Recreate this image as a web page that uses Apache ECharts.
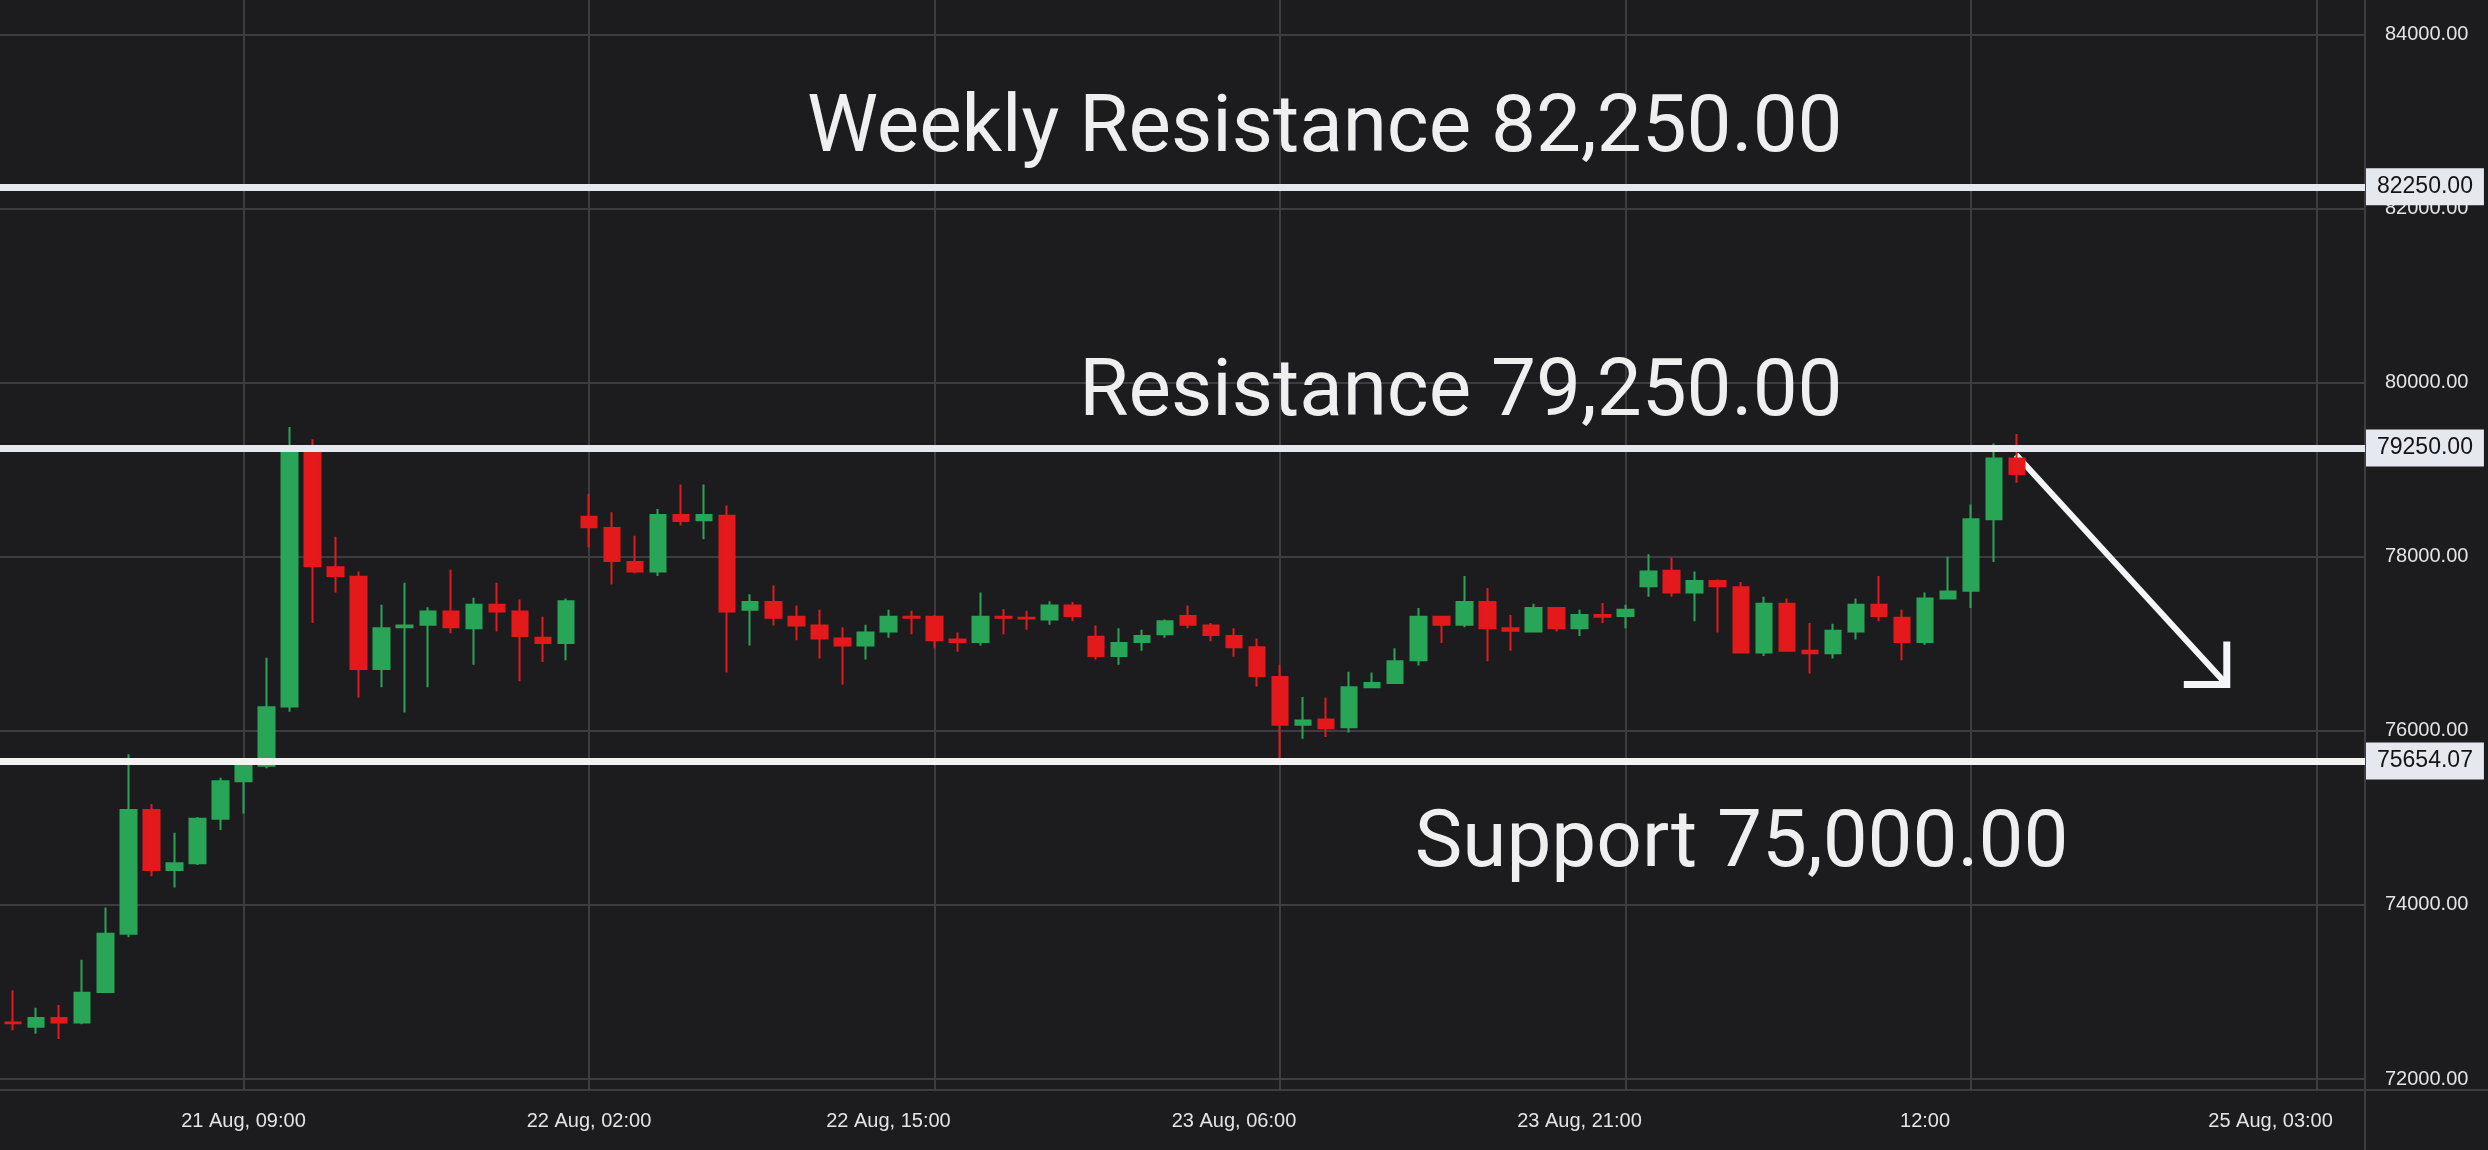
<!DOCTYPE html>
<html>
<head>
<meta charset="utf-8">
<title>Support / Resistance</title>
<script src="https://cdn.jsdelivr.net/npm/echarts@6/dist/echarts.min.js"></script>
<style>
    html, body { margin: 0; padding: 0; background: #1c1c1f; }
    #main { width: 2488px; height: 1150px; }
</style>
</head>
<body>
<div id="main"></div>
<script type="text/javascript">
    // hourly candles (index = candle number)
    var opens = [72650, 72600, 72700, 72650, 73000, 73670, 75090, 74400, 74480, 74990,
        75420, 75600, 76280, 79250, 77880, 77770, 76710, 77190, 77220, 77370,
        77180, 77450, 77370, 77070, 77010, 78460, 78330, 77940, 77830, 78480,
        78420, 78470, 77390, 77480, 77310, 77210, 77060, 76980, 77140, 77310,
        77310, 77050, 77020, 77310, 77300, 77280, 77440, 77080, 76860, 77020,
        77110, 77320, 77210, 77090, 76960, 76620, 76070, 76130, 76040, 76500,
        76550, 76810, 77310, 77220, 77480, 77180, 77140, 77410, 77180, 77330,
        77320, 77660, 77840, 77590, 77720, 77650, 76900, 77460, 76920, 76890,
        77140, 77450, 77300, 77020, 77520, 77610, 78430, 79130];
    var closes = [72640, 72700, 72650, 72990, 73670, 75090, 74400, 74480, 74990, 75420,
        75600, 76270, 79260, 77890, 77780, 76710, 77180, 77210, 77370, 77190,
        77450, 77370, 77090, 77010, 77490, 78340, 77950, 77830, 78480, 78410,
        78480, 77370, 77480, 77300, 77210, 77060, 76980, 77130, 77310, 77300,
        77040, 77020, 77310, 77300, 77290, 77440, 77320, 76860, 77010, 77090,
        77260, 77220, 77100, 76960, 76630, 76070, 76120, 76030, 76500, 76550,
        76800, 77310, 77220, 77480, 77180, 77150, 77410, 77180, 77330, 77310,
        77390, 77830, 77590, 77720, 77660, 76900, 77460, 76920, 76890, 77150,
        77450, 77320, 77020, 77520, 77600, 78430, 79130, 78950];
    var lows = [72560, 72520, 72460, 72630, 72990, 73630, 74330, 74200, 74460, 74860,
        75050, 75570, 76220, 77240, 77590, 76380, 76500, 76210, 76500, 77120,
        76760, 77140, 76570, 76790, 76810, 78110, 77680, 77810, 77780, 78360,
        78200, 76670, 76980, 77210, 77040, 76830, 76530, 76820, 77070, 77110,
        76950, 76910, 76980, 77110, 77160, 77220, 77260, 76820, 76760, 76920,
        77070, 77180, 77030, 76850, 76510, 75654.07, 75910, 75930, 75980, 76490,
        76540, 76750, 77010, 77190, 76800, 76920, 77140, 77140, 77090, 77240,
        77180, 77540, 77540, 77260, 77130, 76900, 76860, 76910, 76660, 76830,
        77050, 77260, 76810, 76990, 77510, 77410, 77940, 78850];
    var highs = [73020, 72820, 72850, 73370, 73970, 75730, 75160, 74830, 75010, 75460,
        75620, 76840, 79490, 79350, 78230, 77830, 77450, 77700, 77420, 77850,
        77530, 77700, 77510, 77310, 77520, 78720, 78510, 78240, 78550, 78830,
        78830, 78590, 77570, 77670, 77440, 77390, 77190, 77220, 77390, 77380,
        77330, 77130, 77590, 77400, 77380, 77490, 77480, 77210, 77180, 77160,
        77280, 77440, 77240, 77180, 77060, 76760, 76390, 76380, 76680, 76670,
        76950, 77410, 77310, 77780, 77640, 77330, 77460, 77420, 77390, 77470,
        77450, 78030, 77990, 77830, 77740, 77710, 77540, 77520, 77240, 77230,
        77520, 77780, 77390, 77590, 78000, 78600, 79300, 79410];

    // axes
    var yTicks = [72000, 74000, 76000, 78000, 80000, 82000, 84000];
    var gridIdx = [10, 25, 40, 55, 70, 85, 100];
    var tickIdx = [10, 25, 38, 53, 68, 83, 98];
    var tickText = ['21 Aug, 09:00', '22 Aug, 02:00', '22 Aug, 15:00', '23 Aug, 06:00',
        '23 Aug, 21:00', '12:00', '25 Aug, 03:00'];

    // drawn levels and notes
    var levels = [82250, 79250, 75654.07];
    var levelColors = ['#e6e8ef', '#e6e8ef', '#f2f2f2'];
    var notes = ['Weekly Resistance 82,250.00', 'Resistance 79,250.00', 'Support 75,000.00'];
    var noteAt = [[79.42, 82895], [79.42, 79860], [89.23, 74682]];
    var arrow = [86.95, 79172, 96.1, 76531];

    var W = 2488, H = 1150;
    var gridRight = 123, gridBottom = 60;
    var frameColor = '#3d3d41';

    var myChart = echarts.init(document.getElementById('main'), null, { renderer: 'canvas' });

    var candles = opens.map(function (o, i) {
        return [i, o, closes[i], lows[i], highs[i]];
    });

    var option = {
        backgroundColor: '#1c1c1f',
        animation: false,
        grid: { left: 0, right: gridRight, top: 0, bottom: gridBottom, outerBoundsMode: 'none' },
        xAxis: {
            type: 'value',
            min: -0.57,
            max: 102.1,
            axisLine: { show: false },
            axisTick: { show: false, customValues: gridIdx },
            splitLine: { show: true, lineStyle: { color: frameColor, width: 2 } },
            axisLabel: {
                customValues: tickIdx,
                formatter: function (v) { return tickText[tickIdx.indexOf(v)]; },
                color: '#e4e4e4',
                fontSize: 20,
                fontFamily: 'Liberation Sans',
                margin: 21
            }
        },
        yAxis: {
            type: 'value',
            position: 'right',
            min: 71874,
            max: 84396,
            axisLine: { show: false },
            axisTick: { show: false, customValues: yTicks },
            splitLine: { show: true, lineStyle: { color: frameColor, width: 2 } },
            axisLabel: {
                customValues: yTicks,
                formatter: function (v) { return v.toFixed(2); },
                color: '#e4e4e4',
                fontSize: 20,
                fontFamily: 'Liberation Sans',
                margin: 20
            }
        },
        graphic: [
            {
                type: 'line', silent: true, z: 1,
                shape: { x1: W - gridRight, y1: 0, x2: W - gridRight, y2: H },
                style: { stroke: frameColor, lineWidth: 2 }
            },
            {
                type: 'line', silent: true, z: 1,
                shape: { x1: 0, y1: H - gridBottom, x2: W, y2: H - gridBottom },
                style: { stroke: frameColor, lineWidth: 2 }
            }
        ],
        series: [
            {
                type: 'candlestick',
                data: candles,
                encode: { x: 0, y: [1, 2, 3, 4] },
                barWidth: 16,
                itemStyle: {
                    color: '#28a557',
                    color0: '#e3191b',
                    borderColor: '#28a557',
                    borderColor0: '#e3191b',
                    borderWidth: 2
                },
                markLine: {
                    silent: true,
                    symbol: ['none', 'none'],
                    data: levels.map(function (v, i) {
                        return {
                            yAxis: v,
                            lineStyle: { color: levelColors[i], width: 7, type: 'solid' }
                        };
                    }),
                    label: {
                        show: true,
                        position: 'end',
                        distance: 1,
                        formatter: function (p) { return Number(p.value).toFixed(2); },
                        backgroundColor: '#e6e8ef',
                        color: '#131316',
                        fontSize: 23,
                        fontFamily: 'Liberation Sans',
                        padding: [7, 11, 7, 11]
                    }
                },
                markPoint: {
                    silent: true,
                    symbol: 'circle',
                    symbolSize: 0,
                    data: notes.map(function (t, i) {
                        return { coord: noteAt[i], value: t };
                    }),
                    label: {
                        show: true,
                        position: 'left',
                        distance: 0,
                        formatter: function (p) { return p.value; },
                        color: '#efefef',
                        fontSize: 80,
                        fontFamily: 'Roboto'
                    }
                }
            },
            {
                type: 'custom',
                silent: true,
                data: [arrow],
                encode: { x: [0, 2], y: [1, 3] },
                renderItem: function (params, api) {
                    var a = api.coord([api.value(0), api.value(1)]);
                    var b = api.coord([api.value(2), api.value(3)]);
                    return {
                        type: 'group',
                        children: [
                            {
                                type: 'line',
                                shape: { x1: a[0], y1: a[1], x2: b[0], y2: b[1] },
                                style: { stroke: '#f4f5f8', lineWidth: 6 }
                            },
                            {
                                type: 'polyline',
                                shape: { points: [[b[0] - 43, b[1]], [b[0], b[1]], [b[0], b[1] - 43]] },
                                style: { stroke: '#f4f5f8', fill: null, lineWidth: 7, lineJoin: 'miter' }
                            }
                        ]
                    };
                }
            }
        ]
    };
    myChart.setOption(option);
</script>
</body>
</html>
